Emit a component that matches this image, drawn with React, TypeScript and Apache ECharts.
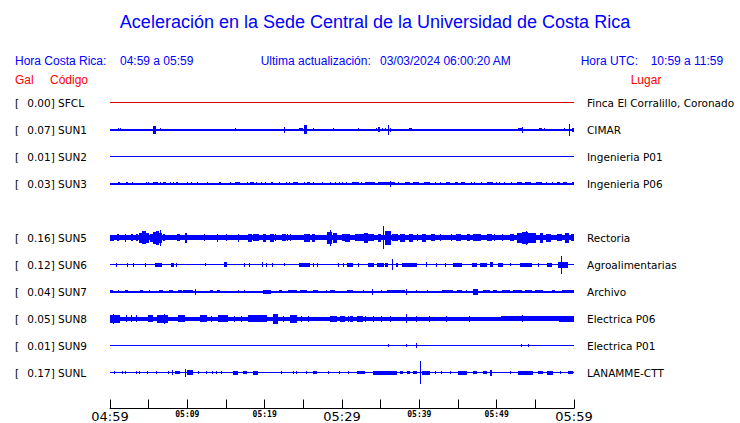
import React, { useEffect, useRef } from "react";
import * as echarts from "echarts";

const TITLE = "Aceleración en la Sede Central de la Universidad de Costa Rica";
const HDR_CR_LABEL = "Hora Costa Rica:";
const HDR_CR_RANGE = "04:59 a 05:59";
const HDR_UPD_LABEL = "Ultima actualización:";
const HDR_UPD_VALUE = "03/03/2024 06:00:20 AM";
const HDR_UTC_LABEL = "Hora UTC:";
const HDR_UTC_RANGE = "10:59 a 11:59";
const COL_GAL = "Gal";
const COL_CODE = "Código";
const COL_PLACE = "Lugar";

// minutes after 04:59 -> tick label
const TICK_MINUTES = [0, 10, 20, 30, 40, 50, 60];
const TICK_LABELS = ["04:59", "05:09", "05:19", "05:29", "05:39", "05:49", "05:59"];
const MAJOR_TICKS = [0, 30, 60];

// rows (empty string = empty slot)
const CODES = ["SFCL", "SUN1", "SUN2", "SUN3", "", "SUN5", "SUN6", "SUN7", "SUN8", "SUN9", "SUNL"];
const PEAK_GAL = [0.0, 0.07, 0.01, 0.03, null, 0.16, 0.12, 0.04, 0.05, 0.01, 0.17];
const PLACES = [
  "Finca El Corralillo, Coronado",
  "CIMAR",
  "Ingenieria P01",
  "Ingenieria P06",
  "",
  "Rectoria",
  "Agroalimentarias",
  "Archivo",
  "Electrica P06",
  "Electrica P01",
  "LANAMME-CTT",
];
// background noise half-amplitude (relative units)
const NOISE = [0.5, 1.0, 0.5, 1.0, 0, 2.5, 0.5, 1.0, 2.0, 0.5, 0.5];

// bursts: [start minute, end minute, half-amplitude]
const SFCL_BURSTS: number[][] = [];
const SUN1_BURSTS = [
  [1.1, 1.1, 1.5], [1.3, 1.3, 1.5], [2.7, 2.7, 1], [5.5, 5.9, 4], [6.5, 6.5, 1.5], [16.2, 16.2, 1.5],
  [18.4, 18.4, 1], [20.9, 21.2, 1], [22.5, 22.5, 3], [24.5, 24.9, 1.5], [25.1, 25.5, 4.5], [26.3, 26.3, 1.5],
  [28.9, 28.9, 1.5], [32.1, 32.1, 1.5], [34.4, 34.4, 1.5], [34.6, 34.9, 2.5], [35.2, 35.2, 1.5], [35.6, 35.6, 1.5],
  [36.0, 36.0, 5], [36.3, 36.3, 2], [38.7, 39.0, 1.5], [43.5, 43.5, 1], [44.7, 44.7, 1], [46.2, 46.2, 1],
  [50.7, 50.7, 1], [52.7, 53.4, 1.5], [53.3, 53.3, 3], [54.6, 54.6, 1], [55.5, 55.9, 1.5], [56.2, 56.2, 1.5],
  [58.4, 58.4, 1], [58.8, 58.8, 1.5], [59.4, 59.4, 6], [59.7, 60, 2],
];
const SUN2_BURSTS: number[][] = [];
const SUN3_BURSTS = [
  [1.07, 1.07, 1.6], [1.29, 1.29, 1.6], [2.07, 2.07, 1.6], [2.24, 2.24, 1.6], [2.94, 2.94, 1.6], [4.66, 4.66, 1.6],
  [4.95, 4.95, 1.6], [5.5, 6.2, 1.6], [6.59, 6.59, 1.6], [6.9, 7.3, 1.6], [7.76, 7.76, 1.6], [8.19, 8.19, 1.6],
  [8.5, 8.85, 1.6], [10.0, 10.0, 1.6], [10.56, 10.56, 1.6], [11.29, 11.29, 1.6], [12.63, 12.63, 1.6],
  [14.13, 14.13, 1.6], [14.31, 14.31, 1.6], [15.56, 15.56, 1.6], [16.2, 16.75, 1.6], [17.81, 17.81, 1.6],
  [18.1, 18.6, 1.6], [18.97, 18.97, 1.6], [19.53, 19.53, 1.6], [20.13, 20.13, 1.6], [20.8, 21.05, 1.6],
  [21.89, 21.89, 1.6], [22.76, 22.76, 1.6], [23.19, 23.19, 1.6], [23.6, 24.35, 1.6], [25.09, 25.09, 1.6],
  [25.5, 25.8, 1.6], [26.29, 26.29, 1.6], [27.45, 27.45, 1.6], [28.54, 28.54, 1.6], [29.18, 29.18, 1.6],
  [29.65, 29.65, 1.6], [30.09, 30.09, 1.6], [30.61, 30.61, 1.6], [31.25, 32.25, 1.6], [32.55, 32.55, 1.6],
  [33.0, 34.3, 1.6], [34.7, 36.85, 1.6], [36.3, 36.3, 3], [37.28, 37.28, 1.6], [38.15, 38.8, 1.6],
  [39.2, 40.0, 1.6], [40.65, 41.4, 1.6], [42.03, 42.03, 1.6], [42.8, 42.8, 1.6], [43.45, 43.95, 1.6],
  [44.55, 44.99, 1.6], [45.45, 45.9, 1.6], [46.77, 46.77, 1.6], [47.07, 47.07, 1.6], [48.06, 48.06, 1.6],
  [48.7, 49.55, 1.6], [50.0, 50.0, 1.6], [50.43, 50.43, 1.6], [50.95, 50.95, 1.6], [51.94, 51.94, 1.6],
  [52.6, 53.25, 1.6], [53.65, 54.5, 1.6], [55.1, 55.8, 1.6], [56.47, 56.47, 1.6], [57.24, 57.24, 1.6],
  [57.85, 58.2, 1.6], [58.6, 59.05, 1.6], [59.7, 60, 1.6],
];
const SUN5_BURSTS = [
  [0, 0.5, 3], [0.9, 1.1, 3.5], [1.9, 2.1, 4], [2.7, 3.0, 3.5], [3.4, 3.6, 3.5], [3.8, 4.2, 5], [4.2, 4.6, 6.5],
  [4.6, 5.0, 5], [5.2, 5.5, 4], [5.4, 5.6, 3.5], [5.6, 5.9, 6], [6.0, 6.4, 7], [6.4, 6.7, 5], [6.5, 6.6, 8],
  [6.8, 7.0, 3.5], [7.1, 7.1, 3.5], [8.6, 9.0, 3.5], [9.7, 10.0, 5], [12.2, 12.2, 3.5], [13.9, 13.9, 4],
  [15.1, 15.1, 3.5], [16.6, 16.6, 4], [17.9, 18.4, 4], [18.5, 19.3, 3.5], [19.8, 20.2, 4], [20.7, 21.2, 4],
  [21.4, 21.4, 3.5], [22.3, 22.7, 3.5], [23.0, 23.0, 3.5], [23.4, 23.4, 3.5], [25.1, 25.9, 4], [26.1, 26.5, 4],
  [28.0, 28.7, 6], [28.4, 28.5, 8], [28.8, 29.4, 5], [30.0, 30.7, 3.5], [30.4, 31.0, 4], [31.7, 32.3, 3.5],
  [32.3, 34.2, 3.5], [32.9, 33.3, 5], [34.6, 35.0, 4], [35.3, 35.4, 11.5], [35.6, 36.3, 7], [36.5, 37.2, 3.5],
  [37.5, 38.2, 4], [38.6, 39.2, 4], [39.8, 39.8, 3.5], [40.3, 40.8, 4], [41.5, 42.0, 3.5], [42.8, 42.8, 3.5],
  [44.1, 44.1, 3.5], [44.8, 45.4, 3.5], [46.2, 46.6, 3.5], [47.0, 48.0, 3.5], [48.8, 49.4, 3.5],
  [49.7, 49.7, 3.5], [50.8, 50.8, 3.5], [51.7, 52.3, 3.5], [52.6, 53.3, 5], [53.3, 54.1, 6], [53.8, 53.9, 7],
  [54.0, 54.3, 5], [54.3, 55.1, 5], [55.6, 56.0, 5], [56.4, 57.0, 4], [57.8, 58.4, 3.5], [58.8, 59.4, 5],
  [59.6, 60, 3.5],
];
const SUN6_BURSTS = [
  [0.78, 0.78, 2], [2.29, 2.29, 2], [3.0, 3.0, 2], [4.53, 4.53, 2], [5.82, 6.69, 2], [7.85, 8.28, 2],
  [8.63, 8.63, 2], [12.41, 12.41, 1.5], [14.78, 15.09, 2.5], [17.33, 17.33, 2], [18.1, 18.1, 2],
  [19.69, 19.69, 2.5], [20.26, 20.26, 2], [21.04, 21.04, 2], [22.54, 22.54, 1.5], [24.48, 25.86, 2],
  [26.29, 26.29, 2], [26.86, 26.86, 2], [29.52, 29.52, 2], [30.17, 30.17, 2], [30.6, 31.46, 2], [32.1, 32.1, 2],
  [33.4, 34.2, 2], [34.5, 35.4, 2], [35.6, 36.0, 2], [36.5, 36.5, 5.3], [37.0, 37.2, 2], [37.8, 39.7, 2],
  [40.95, 40.95, 2.5], [42.25, 42.25, 2], [43.32, 43.32, 2], [44.39, 45.48, 2], [46.77, 47.42, 2],
  [47.85, 48.71, 2], [49.14, 49.57, 2.5], [50.21, 50.86, 2], [51.73, 51.73, 1.5], [53.02, 54.53, 2],
  [55.39, 55.39, 2], [56.47, 57.12, 2], [57.93, 59.23, 3], [58.41, 58.41, 9],
];
const SUN7_BURSTS = [
  [0, 0.43, 1.8], [1.07, 1.07, 1.8], [1.94, 2.37, 1.8], [3.88, 4.23, 1.8], [5.17, 5.17, 1.5], [6.38, 6.81, 1.8],
  [7.67, 8.11, 1.8], [8.83, 9.27, 1.8], [9.48, 10.69, 1.8], [11.12, 11.12, 3], [12.93, 13.36, 1.8],
  [13.8, 14.22, 1.8], [16.59, 16.59, 1.5], [17.33, 17.33, 1.5], [19.82, 20.78, 2], [21.89, 22.2, 1.8],
  [23.06, 24.22, 1.8], [24.57, 25.44, 1.8], [26.29, 26.94, 1.8], [28.02, 28.02, 1.5], [28.45, 29.1, 1.8],
  [30.6, 31.46, 1.8], [32.75, 32.75, 1.8], [33.84, 34.05, 3], [35.13, 35.13, 1.5], [35.78, 38.15, 1.8],
  [38.37, 38.37, 3], [39.66, 39.66, 1.8], [41.08, 41.08, 1.8], [42.89, 44.39, 1.8], [44.83, 45.48, 1.8],
  [46.13, 46.13, 1.8], [46.98, 47.63, 3], [48.27, 49.14, 1.8], [49.57, 50.0, 1.8], [50.65, 51.73, 1.8],
  [52.15, 53.24, 1.8], [53.67, 54.53, 1.8], [54.96, 56.03, 1.8], [57.12, 57.55, 1.8], [58.41, 60, 1.8],
];
const SUN8_BURSTS = [
  [0, 1.29, 4], [0.43, 0.43, 5], [2.16, 2.16, 3.5], [2.81, 2.81, 3.5], [3.45, 3.45, 3.5], [4.95, 5.6, 3.5],
  [6.04, 7.54, 4], [7.11, 7.11, 5], [8.83, 9.7, 3.5], [11.64, 12.5, 3.5], [13.15, 13.15, 3], [14.0, 15.3, 3.5],
  [16.16, 16.16, 3], [17.03, 17.03, 3], [17.88, 20.26, 3.5], [21.12, 21.76, 5], [22.41, 22.41, 3],
  [23.28, 24.14, 4], [24.79, 24.79, 3], [25.64, 25.64, 3], [28.45, 29.31, 3], [29.74, 30.39, 3],
  [30.82, 30.82, 3], [31.04, 31.46, 3], [31.9, 32.75, 3], [33.1, 33.1, 3], [34.05, 34.05, 3],
  [35.13, 35.13, 3], [36.21, 36.21, 3], [38.37, 38.37, 4.5], [39.66, 39.66, 3], [41.29, 41.29, 3],
  [43.54, 43.54, 3], [46.55, 46.55, 3], [50.5, 60, 2.6], [53.37, 53.37, 3.5], [58.0, 60, 3],
];
const SUN9_BURSTS = [
  [35.99, 35.99, 1.5], [38.37, 38.37, 1.5], [39.66, 39.66, 2.5], [53.24, 53.24, 1.5], [54.09, 54.09, 1.5],
];
const SUNL_BURSTS = [
  [0.52, 0.52, 1.5], [1.64, 1.64, 1.5], [1.94, 1.94, 1.5], [3.45, 3.45, 1.5], [3.79, 3.79, 1.5],
  [4.82, 4.82, 1.5], [5.95, 5.95, 1.5], [7.54, 7.54, 1.5], [8.11, 8.11, 2.5], [8.41, 9.05, 1.8],
  [9.79, 9.79, 4], [10.0, 10.77, 2.5], [11.47, 11.47, 1.5], [12.5, 12.5, 1.5], [13.28, 13.28, 1.5],
  [13.8, 13.8, 1.5], [14.44, 14.44, 1.5], [15.94, 16.59, 2], [17.24, 17.68, 1.8], [18.53, 19.18, 2],
  [22.2, 22.2, 1.5], [23.7, 23.7, 1.5], [24.14, 24.14, 1.5], [25.44, 25.44, 1.5], [26.29, 26.81, 1.8],
  [28.23, 28.23, 1.5], [29.65, 29.65, 1.5], [30.82, 30.82, 1.5], [31.9, 32.98, 1.8], [34.05, 37.07, 2],
  [37.5, 37.93, 1.8], [38.37, 38.8, 1.8], [39.22, 39.66, 1.8], [40.09, 40.09, 11.7], [40.31, 41.38, 2],
  [42.03, 42.03, 1.5], [42.89, 42.89, 1.5], [43.97, 43.97, 1.5], [45.04, 46.13, 2], [46.98, 47.42, 1.8],
  [48.27, 48.71, 1.8], [49.14, 49.36, 3], [51.73, 51.73, 1.5], [52.8, 54.74, 2], [55.39, 56.03, 1.8],
  [56.47, 57.33, 2], [58.19, 58.19, 1.5], [59.27, 59.91, 1.8],
];
const BURSTS = [
  SFCL_BURSTS, SUN1_BURSTS, SUN2_BURSTS, SUN3_BURSTS, [], SUN5_BURSTS,
  SUN6_BURSTS, SUN7_BURSTS, SUN8_BURSTS, SUN9_BURSTS, SUNL_BURSTS,
];

const AMP_PER_ROW = 27;
const BLUE = "#0000ff";
const RED = "#ff0000";
const TRACE_RED = "#d80000";

export default function App() {
  const ref = useRef<HTMLDivElement>(null);
  useEffect(() => {
    if (!ref.current) return;
    const chart = echarts.init(ref.current, undefined, { renderer: "svg" });
    const rowOf = (v: number) => {
      const i = Math.round(v);
      if (Math.abs(v - i) > 0.001 || i < 0 || i >= CODES.length || !CODES[i]) return -1;
      return i;
    };
    const stationRows = CODES.map((c, i) => (c ? i : -1)).filter((i) => i >= 0);
    const hdr = (text: string, x: number, y: number, fill: string, extra: any = {}) => ({
      type: "text",
      x,
      y,
      style: {
        text,
        fill,
        font: "12px 'Liberation Sans', Arial, sans-serif",
        textVerticalAlign: "middle",
        ...extra,
      },
    });
    const snapRect = (x0: number, y0: number, x1: number, y1: number, minW: number) => {
      let xa = Math.round(x0);
      let xb = Math.round(x1);
      if (xb - xa < minW) {
        const c = Math.floor((x0 + x1) / 2);
        xa = c;
        xb = c + minW;
      }
      const ya = Math.round(y0);
      let yb = Math.round(y1);
      if (yb - ya < 1) yb = ya + 1;
      return { x: xa, y: ya, width: xb - xa, height: yb - ya };
    };
    const option: any = {
      animation: false,
      backgroundColor: "#ffffff",
      grid: { left: 110, right: 166, top: 76, bottom: 14, containLabel: false },
      graphic: [
        hdr(TITLE, 375, 22, BLUE, { font: "18px 'Liberation Sans', Arial, sans-serif", textAlign: "center" }),
        hdr(HDR_CR_LABEL, 15, 61, BLUE),
        hdr(HDR_CR_RANGE, 120, 61, BLUE),
        hdr(HDR_UPD_LABEL, 260.7, 61, BLUE),
        hdr(HDR_UPD_VALUE, 380, 61, BLUE),
        hdr(HDR_UTC_LABEL, 580.7, 61, BLUE),
        hdr(HDR_UTC_RANGE, 650.7, 61, BLUE),
        hdr(COL_GAL, 15, 80, RED),
        hdr(COL_CODE, 50, 80, RED),
        hdr(COL_PLACE, 630.7, 80, RED),
      ],
      xAxis: {
        type: "value",
        min: 0,
        max: 60,
        interval: 5,
        splitLine: { show: false },
        axisLine: { show: true, onZero: false, lineStyle: { color: "#000", width: 1 } },
        axisTick: { show: true, inside: true, length: 9, lineStyle: { color: "#000", width: 1 } },
        axisLabel: {
          margin: 1,
          showMinLabel: true,
          showMaxLabel: true,
          formatter: (v: number) => {
            const k = TICK_MINUTES.indexOf(v);
            if (k < 0) return "";
            return MAJOR_TICKS.includes(v) ? `{big|${TICK_LABELS[k]}}` : `{small|${TICK_LABELS[k]}}`;
          },
          rich: {
            big: { fontSize: 13, fontFamily: "DejaVu Sans", color: "#000", lineHeight: 14 },
            small: { fontSize: 8, fontFamily: "DejaVu Sans Mono", fontWeight: "bold", color: "#000", lineHeight: 10 },
          },
        },
      },
      yAxis: [
        {
          type: "value",
          inverse: true,
          min: -1,
          max: 10 + 36 / 27,
          interval: 1,
          position: "left",
          splitLine: { show: false },
          axisLine: { show: false },
          axisTick: { show: false },
          axisLabel: {
            margin: 95,
            align: "left",
            fontFamily: "DejaVu Sans",
            fontSize: 10.5,
            color: "#000",
            showMaxLabel: false,
            formatter: (v: number) => {
              const i = rowOf(v);
              if (i < 0) return "";
              return `{b|[}{v|${(PEAK_GAL[i] as number).toFixed(2)}]} ${CODES[i]}`;
            },
            rich: {
              b: { width: 12.3, fontFamily: "DejaVu Sans", fontSize: 10.5, color: "#000" },
              v: { fontFamily: "DejaVu Sans", fontSize: 10.5, color: "#000" },
            },
          },
        },
        {
          type: "value",
          inverse: true,
          min: -1,
          max: 10 + 36 / 27,
          interval: 1,
          position: "right",
          splitLine: { show: false },
          axisLine: { show: false },
          axisTick: { show: false },
          axisLabel: {
            margin: 13,
            align: "left",
            fontFamily: "DejaVu Sans",
            fontSize: 10.5,
            color: "#000",
            showMaxLabel: false,
            formatter: (v: number) => {
              const i = rowOf(v);
              return i < 0 ? "" : PLACES[i];
            },
          },
        },
      ],
      series: [
        {
          type: "custom",
          xAxisIndex: 0,
          yAxisIndex: 0,
          clip: false,
          encode: { x: 0, y: 1 },
          data: stationRows.map((r) => [0, r]),
          renderItem: (params: any, api: any) => {
            const row = api.value(1);
            const color = CODES[row] === "SFCL" ? TRACE_RED : BLUE;
            const children: any[] = [];
            const n = NOISE[row] / AMP_PER_ROW;
            const a = api.coord([0, row - n]);
            const b = api.coord([60, row + n]);
            children.push({
              type: "rect",
              shape: snapRect(a[0], a[1], b[0], b[1], 1),
              style: { fill: color },
            });
            for (const [s, e, amp] of BURSTS[row]) {
              const h = amp / AMP_PER_ROW;
              const p = api.coord([s, row - h]);
              const q = api.coord([e, row + h]);
              children.push({
                type: "rect",
                shape: snapRect(p[0], p[1], q[0], q[1], 1),
                style: { fill: color },
              });
            }
            return { type: "group", children };
          },
        },
      ],
    };
    chart.setOption(option);
    return () => chart.dispose();
  }, []);
  return <div ref={ref} style={{ width: 740, height: 423, position: "fixed", left: 0, top: 0 }} />;
}
